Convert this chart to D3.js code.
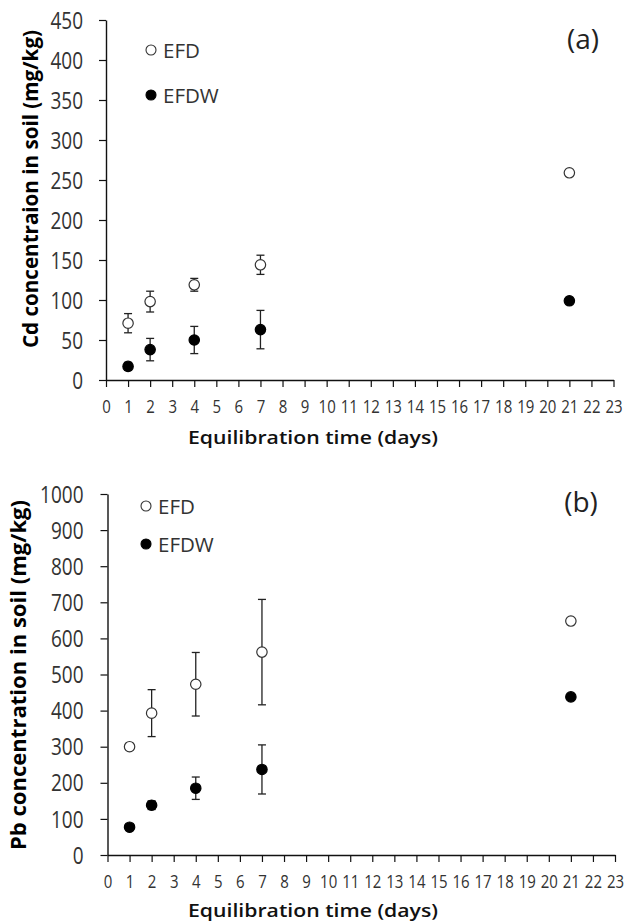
<!DOCTYPE html>
<html><head><meta charset="utf-8">
<script src="https://cdn.jsdelivr.net/npm/d3@7/dist/d3.min.js"></script>
<style>body{margin:0;background:#fff}svg{display:block}</style>
</head><body>
<svg id="c" width="624" height="923"></svg>
<script>
// ---- data ----
const days = [1, 2, 4, 7, 21];
const cdEFD = [71, 98, 119, 144, 259];
const cdEFDErr = [12, 13, 8, 12, 0];
const cdEFDW = [17, 38, 50, 63, 99];
const cdEFDWErr = [5, 14, 17, 24, 0];
const pbEFD = [300, 393, 473, 562, 648];
const pbEFDErr = [8, 65, 88, 146, 0];
const pbEFDW = [77, 138, 185, 237, 438];
const pbEFDWErr = [8, 12, 31, 68, 0];
const xTickValues = [0,1,2,3,4,5,6,7,8,9,10,11,12,13,14,15,16,17,18,19,20,21,22,23];
const cdTicks = [0,50,100,150,200,250,300,350,400,450];
const pbTicks = [0,100,200,300,400,500,600,700,800,900,1000];
const seriesNames = ["EFD", "EFDW"];
const panelLabels = ["(a)", "(b)"];
const yTitles = ["Cd concentraion in soil (mg/kg)", "Pb concentration in soil (mg/kg)"];
const xTitle = "Equilibration time (days)";

const svg = d3.select("#c");
const FONT = "'Open Sans', 'Liberation Sans', sans-serif";

function drawPanel(p) {
  const x = d3.scaleLinear().domain([0, 23]).range([p.x0, p.x1]);
  const y = d3.scaleLinear().domain([0, p.ticks[p.ticks.length-1]]).range([p.y0, p.y1]);
  const g = svg.append("g");

  // x axis
  const xa = g.append("g").attr("transform", `translate(0,${p.y0})`)
    .call(d3.axisBottom(x).tickValues(xTickValues).tickSize(7).tickSizeOuter(0).tickFormat(d3.format("d")));
  xa.select(".domain").attr("stroke", "#111").attr("stroke-width", 1.4);
  xa.selectAll(".tick line").attr("stroke", "#111").attr("stroke-width", 1.2);
  xa.selectAll(".tick text").attr("y", null).attr("dy", null)
    .attr("transform", `translate(0,${p.xLabOff}) scale(1,1.25)`)
    .attr("font-family", FONT).attr("font-size", 15).attr("fill", "#333");

  // y axis
  const ya = g.append("g").attr("transform", `translate(${p.x0},0)`)
    .call(d3.axisLeft(y).tickValues(p.ticks).tickSize(7).tickSizeOuter(0).tickFormat(d3.format("d")));
  ya.select(".domain").attr("stroke", "#111").attr("stroke-width", 1.4);
  ya.selectAll(".tick line").attr("stroke", "#111").attr("stroke-width", 1.2);
  ya.selectAll(".tick text").attr("x", null).attr("dy", "0.357em")
    .attr("transform", `translate(${-p.yLabGap},0) scale(1,1.2)`)
    .attr("font-family", FONT).attr("font-size", 19).attr("fill", "#333");
  ya.attr("font-family", FONT); xa.attr("font-family", FONT);

  // error bars + markers
  const series = [
    {vals: p.a, err: p.aErr, fill: "#fff"},
    {vals: p.b, err: p.bErr, fill: "#000"}
  ];
  series.forEach(s => {
    const pts = days.map((d, i) => ({d, v: s.vals[i], e: s.err[i]}));
    const eb = g.append("g").attr("stroke", "#222").attr("stroke-width", 1.3);
    pts.filter(q => q.e > 0).forEach(q => {
      const cx = x(q.d), yt = y(q.v + q.e), yb = y(q.v - q.e);
      eb.append("line").attr("x1", cx).attr("x2", cx).attr("y1", yt).attr("y2", yb);
      eb.append("line").attr("x1", cx - 4).attr("x2", cx + 4).attr("y1", yt).attr("y2", yt);
      eb.append("line").attr("x1", cx - 4).attr("x2", cx + 4).attr("y1", yb).attr("y2", yb);
    });
    g.append("g").selectAll("circle").data(pts).join("circle")
      .attr("cx", q => x(q.d)).attr("cy", q => y(q.v)).attr("r", 5.2)
      .attr("fill", s.fill).attr("stroke", s.fill === "#000" ? "#000" : "#333").attr("stroke-width", 1.2);
  });

  // legend
  const lg = g.append("g");
  seriesNames.forEach((n, i) => {
    lg.append("circle").attr("cx", p.legX).attr("cy", p.legY[i]).attr("r", 5)
      .attr("fill", i === 0 ? "#fff" : "#000").attr("stroke", i === 0 ? "#333" : "#000").attr("stroke-width", 1.1);
    lg.append("text").attr("x", p.legX + 12).attr("y", p.legY[i] + 7.5).text(n)
      .attr("font-family", FONT).attr("font-size", 20.5).attr("fill", "#333");
  });

  // panel label
  g.append("text").attr("x", p.labX).attr("y", p.labY).attr("text-anchor", "middle")
    .attr("font-family", FONT).attr("font-size", 28).attr("fill", "#222").text(p.label);

  // y title
  g.append("text").attr("transform", `translate(${p.ytX},${p.ytY}) rotate(-90)`)
    .attr("text-anchor", "middle").attr("font-family", FONT).attr("font-weight", "bold")
    .attr("font-size", 21).attr("fill", "#000")
    .attr("textLength", p.ytLen).attr("lengthAdjust", "spacingAndGlyphs").text(p.yTitle);

  // x title
  g.append("text").attr("x", p.xtX).attr("y", p.xtY).attr("text-anchor", "middle")
    .attr("font-family", FONT).attr("font-weight", 600).attr("font-size", 18).attr("fill", "#111")
    .attr("textLength", 250).attr("lengthAdjust", "spacingAndGlyphs").text(xTitle);
}

drawPanel({x0: 106, x1: 613.5, y0: 380, y1: 20, ticks: cdTicks,
  a: cdEFD, aErr: cdEFDErr, b: cdEFDW, bErr: cdEFDWErr,
  xLabOff: 33, yLabGap: 23,
  legX: 151, legY: [50, 95], label: panelLabels[0], labX: 583, labY: 49,
  yTitle: yTitles[0], ytX: 38, ytY: 189, ytLen: 318,
  xtX: 313, xtY: 444});

drawPanel({x0: 107.5, x1: 615, y0: 855, y1: 494, ticks: pbTicks,
  a: pbEFD, aErr: pbEFDErr, b: pbEFDW, bErr: pbEFDWErr,
  xLabOff: 33, yLabGap: 24,
  legX: 146, legY: [506, 544], label: panelLabels[1], labX: 581, labY: 512,
  yTitle: yTitles[1], ytX: 26, ytY: 675, ytLen: 350,
  xtX: 313, xtY: 917});
</script>
</body></html>
